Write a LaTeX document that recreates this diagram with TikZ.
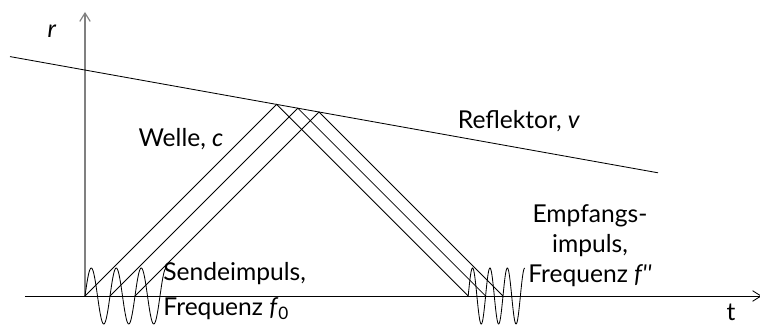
\documentclass[tikz,border=0pt]{standalone}
\usepackage{fontspec}
\setmainfont{Lato}
\usetikzlibrary{calc,intersections,arrows.meta}

\begin{document}
\begin{tikzpicture}[line width=0.6pt, font=\fontsize{17.5}{21.3}\selectfont,
	pfeil/.style={-{Straight Barb[length=6pt,width=7.5pt]}}]
\useasboundingbox (-2.125,-0.725) rectangle (16.875,7.4);

	%% Koordinatensystem
	\draw[pfeil] (-1.5,0) coordinate (links) -- (16.92,0) coordinate (rechts);
	\draw[pfeil, gray, line width=0.8pt] (0,0) coordinate (O) -- (0,7.1) coordinate (oben);
	\node (rlabel) at (-0.825,6.625) {\textit{r}};
	\node (tlabel) at (16.15,-0.4) {t};

	%% Reflektor
	\draw[name path=reflektor] (-1.875,5.985) coordinate (R1) -- (14.325,3.08) coordinate (R2);
	\node (reflektortext) at (10.85,4.375) {Reflektor, \textit{v}};
	\node (welle) at (2.4,3.925) {Welle, \textit{c}};

	%%%%%%%%%%%%%%%%

	%% Wellen hin zum Reflektor und zurueck
	\foreach \s [count=\i] in {0,0.625,1.25}{
		\coordinate (S\i) at (\s,0);
		\path[name path=strahl] (S\i) -- ++(8,8);
		\path[name intersections={of=strahl and reflektor, by={A\i}}];
		\draw let \p1 = (A\i) in (S\i) -- (A\i) -- ++(\y1,-\y1) coordinate (E\i);
	}

	%% Sendeimpuls
	\draw[domain=0:3.25, samples=120, smooth] plot ({0.625*\x}, {0.7*sin(360*\x)});
	\node[anchor=north west, align=left, inner sep=0pt] (sende) at (1.95,0.86)
		{Sendeimpuls,\\[4pt]Frequenz \textit{f}\textsubscript{0}};

	%% Empfangsimpuls
	\draw[shift={(E1)}, domain=0:3.25, samples=120, smooth] plot ({0.435*\x}, {0.7*sin(360*\x)});
	\node[align=center] (empfang) at (12.625,1.25)
		{Empfangs-\\impuls,\\Frequenz \textit{f\textquotesingle\textquotesingle}};

\end{tikzpicture}
\end{document}
